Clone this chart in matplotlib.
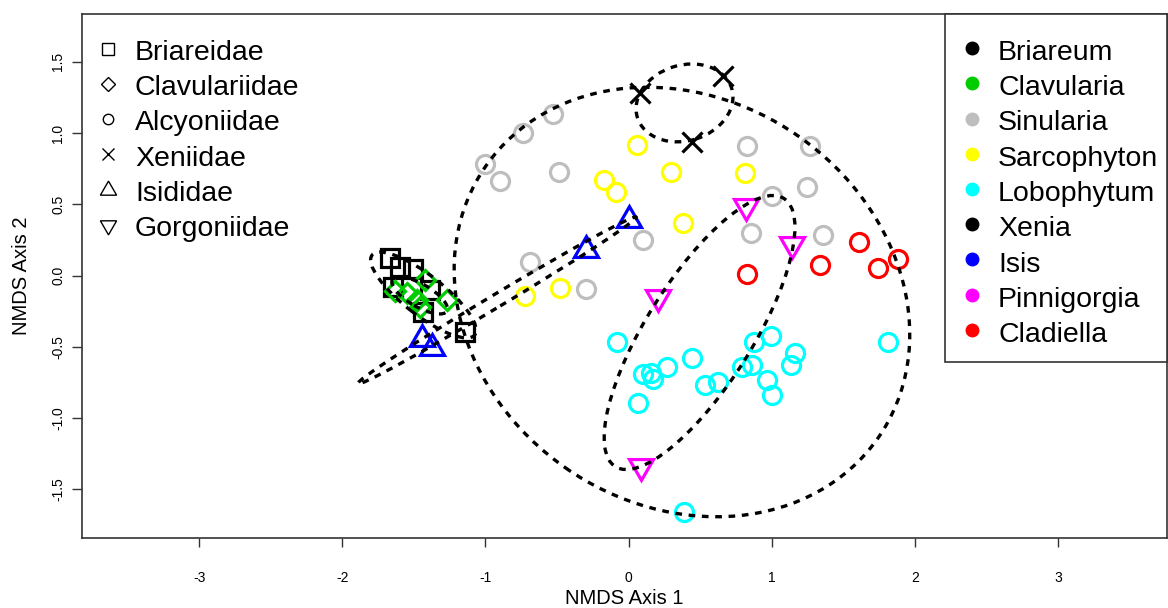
import numpy as np
import matplotlib.pyplot as plt
from matplotlib.lines import Line2D
from matplotlib.patches import Ellipse, Rectangle

plt.rcParams['font.family'] = ['Liberation Sans', 'DejaVu Sans']

# NMDS site scores, one pair of lists per genus
briareum_x = [-1.668, -1.598, -1.509, -1.645, -1.388, -1.435, -1.143]
briareum_y = [0.121, 0.060, 0.044, -0.079, -0.102, -0.254, -0.394]

clavularia_x = [-1.632, -1.549, -1.423, -1.479, -1.458, -1.269]
clavularia_y = [-0.109, -0.123, -0.032, -0.172, -0.221, -0.172]

sinularia_x = [-0.526, -0.740, -1.004, -0.899, -0.486, 0.825, 1.268,
               1.249, 1.004, 0.853, 0.098, -0.689, -0.298, 1.361]
sinularia_y = [1.133, 0.998, 0.780, 0.665, 0.724, 0.911, 0.911,
               0.619, 0.558, 0.301, 0.249, 0.093, -0.097, 0.284]

sarcophyton_x = [0.056, -0.172, -0.088, 0.294, 0.814, 0.378, -0.479, -0.724]
sarcophyton_y = [0.916, 0.670, 0.584, 0.729, 0.722, 0.371, -0.090, -0.141]

lobophytum_x = [-0.079, 0.103, 0.154, 0.173, 0.271, 0.068, 0.441, 0.534,
                0.623, 0.790, 0.860, 0.876, 0.995, 1.163, 1.133, 0.965,
                1.000, 1.815, 0.387]
lobophytum_y = [-0.465, -0.691, -0.682, -0.729, -0.640, -0.897, -0.581, -0.768,
                -0.745, -0.640, -0.628, -0.465, -0.422, -0.542, -0.628, -0.733,
                -0.839, -0.465, -1.658]

xenia_x = [0.080, 0.662, 0.445]
xenia_y = [1.279, 1.400, 0.939]

isis_x = [-1.446, -1.376, -0.298, 0.003]
isis_y = [-0.448, -0.511, 0.182, 0.389]

pinnigorgia_x = [0.818, 1.144, 0.208, 0.087]
pinnigorgia_y = [0.486, 0.218, -0.148, -1.338]

cladiella_x = [0.830, 1.338, 1.610, 1.741, 1.881]
cladiella_y = [0.011, 0.074, 0.237, 0.055, 0.116]

# family dispersion ellipses: centre, semi-axes, rotation (deg)
ell_family = ['Briareidae', 'Clavulariidae', 'Alcyoniidae', 'Xeniidae', 'Isididae', 'Gorgoniidae']
ell_cx = [-1.434, -1.460, 0.373, 0.391, -0.920, 0.496]
ell_cy = [-0.137, -0.140, -0.186, 1.211, -0.175, -0.400]
ell_a = [0.455, 0.220, 1.670, 0.345, 1.135, 1.110]
ell_b = [0.140, 0.080, 1.420, 0.265, 0.045, 0.370]
ell_angle = [-38, -30, -35, 17.5, 31, 58]

families = ['Briareidae', 'Clavulariidae', 'Alcyoniidae', 'Xeniidae', 'Isididae', 'Gorgoniidae']
genera = ['Briareum', 'Clavularia', 'Sinularia', 'Sarcophyton', 'Lobophytum',
          'Xenia', 'Isis', 'Pinnigorgia', 'Cladiella']
genus_colors = ['black', '#00CD00', '#BEBEBE', '#FFFF00', '#00FFFF',
                'black', '#0000FF', '#FF00FF', '#FF0000']
genus_family = ['Briareidae', 'Clavulariidae', 'Alcyoniidae', 'Alcyoniidae', 'Alcyoniidae',
                'Xeniidae', 'Isididae', 'Gorgoniidae', 'Alcyoniidae']
genus_xy = [(briareum_x, briareum_y), (clavularia_x, clavularia_y),
            (sinularia_x, sinularia_y), (sarcophyton_x, sarcophyton_y),
            (lobophytum_x, lobophytum_y), (xenia_x, xenia_y), (isis_x, isis_y),
            (pinnigorgia_x, pinnigorgia_y), (cladiella_x, cladiella_y)]

# marker and size used for each family (plot, legend)
fam_marker = {'Briareidae': ('s', 12.4, 8.0), 'Clavulariidae': ('D', 10.5, 7.5),
              'Alcyoniidae': ('o', 13.0, 7.5), 'Xeniidae': ('x', 13.7, 9.0),
              'Isididae': ((3, 0, 0), 20, 13.5), 'Gorgoniidae': ((3, 0, 180), 20, 13.5)}

W, H = 1168, 608
fig = plt.figure(figsize=(W / 100, H / 100), dpi=100)
ax = fig.add_axes([82 / W, 70 / H, 1085 / W, 524 / H])
ax.set_xlim(-3.82, 3.763)
ax.set_ylim(-1.842, 1.835)

draw_order = [0, 1, 2, 3, 4, 8, 5, 6, 7]
for i in draw_order:
    x, y = genus_xy[i]
    m, ms, _ = fam_marker[genus_family[i]]
    ax.plot(x, y, linestyle='none', marker=m, ms=ms, mfc='none',
            mec=genus_colors[i], mew=2.3, zorder=2)

for cx, cy, a, b, ang in zip(ell_cx, ell_cy, ell_a, ell_b, ell_angle):
    ax.add_patch(Ellipse((cx, cy), 2 * a, 2 * b, angle=ang, fill=False,
                         ec='black', lw=2.4, ls=(0, (2, 2)), zorder=3))

# axes, ticks, titles
for s in ax.spines.values():
    s.set_color('#333333')
    s.set_linewidth(1.2)
xt = [-3, -2, -1, 0, 1, 2, 3]
yt = [-1.5, -1.0, -0.5, 0.0, 0.5, 1.0, 1.5]
ax.set_xticks(xt)
ax.set_xticklabels([str(v) for v in xt])
ax.set_yticks(yt)
ax.set_yticklabels(['%.1f' % v for v in yt], rotation=90, va='center')
ax.tick_params(axis='x', length=6.5, width=1, color='#333333', labelsize=10, pad=17)
ax.tick_params(axis='y', length=7, width=1, color='#333333', labelsize=10, pad=5)

ax.set_xlabel('NMDS Axis 1', fontsize=14.5)
ax.xaxis.set_label_coords(0.5, (538 - 598) / 524)
ax.xaxis.label.set_verticalalignment('center')
ax.set_ylabel('NMDS Axis 2', fontsize=14.5)
ax.yaxis.set_label_coords((22 - 82) / 1085, 0.5)
ax.yaxis.label.set_verticalalignment('center')


# legends, laid out in figure pixels
def fxy(px, py):
    return px / W, 1 - py / H


def key_marker(px, py, **kw):
    mx, my = fxy(px, py)
    fig.add_artist(Line2D([mx], [my], linestyle='none', transform=fig.transFigure,
                          zorder=6, **kw))


row0, step = 60, 35.25
for i, fam in enumerate(families):
    base = row0 + step * i
    m, _, lms = fam_marker[fam]
    key_marker(108, base - 11.5, marker=m, ms=lms, mfc='none', mec='black', mew=1.0)
    tx, ty = fxy(135, base)
    fig.text(tx, ty, fam, fontsize=20.5, va='baseline', ha='left')

bx, by = fxy(945, 362)
fig.add_artist(Rectangle((bx, by), 222 / W, 348 / H, transform=fig.transFigure,
                         facecolor='white', edgecolor='#333333', lw=1.2, zorder=4))
for i, g in enumerate(genera):
    base = row0 + step * i
    key_marker(971.7, base - 12, marker='o', ms=9, mfc=genus_colors[i],
               mec=genus_colors[i])
    tx, ty = fxy(998, base)
    fig.text(tx, ty, g, fontsize=20.5, va='baseline', ha='left', zorder=6)

fig.savefig('out.png', dpi=100)
